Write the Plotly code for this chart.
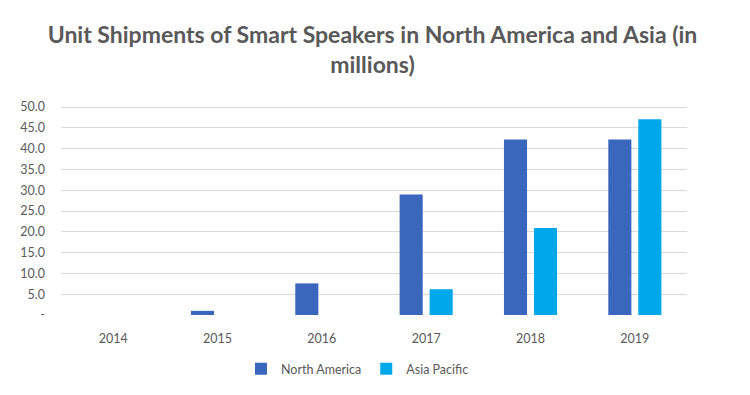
import plotly.graph_objects as go

years = ["2014", "2015", "2016", "2017", "2018", "2019"]
north_america = [0.0, 1.0, 7.6, 29.0, 42.2, 42.2]
asia_pacific = [0.0, 0.0, 0.0, 6.2, 20.9, 47.1]
y_tickvals = [0, 5, 10, 15, 20, 25, 30, 35, 40, 45, 50]
y_ticktext = ["-", "5.0", "10.0", "15.0", "20.0", "25.0", "30.0", "35.0", "40.0", "45.0", "50.0"]

fig = go.Figure()
fig.add_trace(go.Bar(name="North America", x=years, y=north_america,
                     marker=dict(color="#3A66BE", line=dict(width=0))))
fig.add_trace(go.Bar(name="Asia Pacific", x=years, y=asia_pacific,
                     marker=dict(color="#00A8EA", line=dict(width=0))))

fig.update_layout(
    width=750, height=395,
    paper_bgcolor="white", plot_bgcolor="white",
    margin=dict(l=53, r=71, t=97, b=88, autoexpand=False),
    barmode="group", bargap=0.425, bargroupgap=0.23,
    title=dict(text="Unit Shipments of Smart Speakers in North America and Asia (in<br>millions)",
               x=0.486, xanchor="center", y=0.911, yanchor="middle",
               font=dict(family="Lato", size=23, color="#595959", weight="bold")),
    font=dict(family="Lato", color="#595959", size=12),
    legend=dict(orientation="h", x=0.4736, xanchor="center", y=-0.258, yanchor="middle",
                font=dict(size=12.5, color="#595959"), itemwidth=30, traceorder="normal"),
    showlegend=True,
)
fig.update_xaxes(showgrid=False, showline=False, ticks="", automargin=False,
                 ticklabelstandoff=14, tickfont=dict(size=12.5, color="#595959"))
fig.update_yaxes(range=[0, 50.5], tickvals=y_tickvals, ticktext=y_ticktext, automargin=False,
                 showgrid=True, gridcolor="#D9D9D9", gridwidth=1, zeroline=False,
                 showline=False, ticks="", ticklabelstandoff=15,
                 tickfont=dict(size=12.5, color="#595959"))

fig.write_html("out.html")
